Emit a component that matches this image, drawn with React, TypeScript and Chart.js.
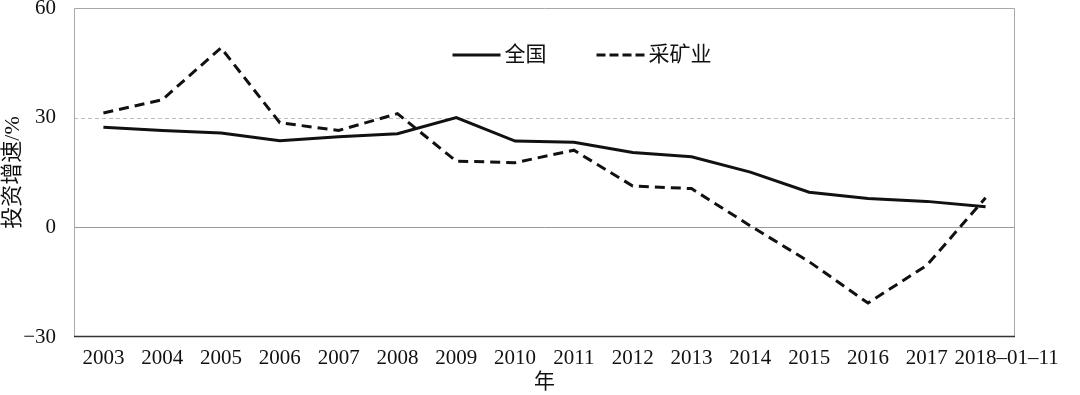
import React, { useEffect, useRef } from "react";
import { Chart, registerables } from "chart.js";

Chart.register(...registerables);

const categories = ["2003", "2004", "2005", "2006", "2007", "2008", "2009", "2010", "2011", "2012", "2013", "2014", "2015", "2016", "2017", "2018–01–11"];
const nationalValues = [27.4, 26.5, 25.8, 23.7, 24.8, 25.6, 30.0, 23.6, 23.3, 20.5, 19.3, 15.1, 9.6, 7.9, 7.1, 5.6];
const miningValues = [31.3, 34.9, 49.1, 28.6, 26.5, 31.1, 18.1, 17.7, 21.1, 11.3, 10.6, 0.4, -9.4, -20.7, -10.4, 8.1];
const seriesNames = ["全国", "采矿业"];
const yTicks = [-30, 0, 30, 60];
const yTitle = "投资增速/%";
const xTitle = "年";

const FONT = "'Liberation Serif', 'Times New Roman', 'Noto Sans CJK SC', serif";

const customDraw = {
  id: "customDraw",
  beforeDatasetsDraw(chart: any) {
    const { ctx, chartArea } = chart;
    const y = chart.scales.y;
    const { left, right, top, bottom } = chartArea;
    ctx.save();
    ctx.strokeStyle = "#bdbdbd";
    ctx.lineWidth = 1;
    ctx.setLineDash([4, 3]);
    const y30 = Math.round(y.getPixelForValue(30)) + 0.5;
    ctx.beginPath();
    ctx.moveTo(left, y30);
    ctx.lineTo(right, y30);
    ctx.stroke();
    ctx.setLineDash([]);
    ctx.strokeStyle = "#9a9a9a";
    const y0 = Math.round(y.getPixelForValue(0)) + 0.5;
    ctx.beginPath();
    ctx.moveTo(left, y0);
    ctx.lineTo(right, y0);
    ctx.stroke();
    ctx.strokeStyle = "#a8a8a8";
    ctx.beginPath();
    ctx.moveTo(left + 0.5, bottom);
    ctx.lineTo(left + 0.5, top + 0.5);
    ctx.lineTo(right - 0.5, top + 0.5);
    ctx.lineTo(right - 0.5, bottom);
    ctx.stroke();
    ctx.strokeStyle = "#333";
    ctx.lineWidth = 1.5;
    ctx.beginPath();
    ctx.moveTo(left, bottom - 0.5);
    ctx.lineTo(right, bottom - 0.5);
    ctx.stroke();
    ctx.restore();
  },
  afterDraw(chart: any) {
    const { ctx, chartArea } = chart;
    const x = chart.scales.x;
    ctx.save();
    ctx.fillStyle = "#111";
    ctx.font = `21px ${FONT}`;
    ctx.textBaseline = "middle";
    ctx.textAlign = "center";
    const n = categories.length;
    categories.forEach((label, i) => {
      let px = x.getPixelForTick(i);
      if (i === n - 1) px += 21;
      ctx.fillText(label, px, chartArea.bottom + 21);
    });
    const cx = (chartArea.left + chartArea.right) / 2;
    const ly = chartArea.top + 47;
    ctx.font = `21px ${FONT}`;
    ctx.textAlign = "left";
    ctx.strokeStyle = "#111";
    ctx.lineWidth = 3;
    ctx.beginPath();
    ctx.moveTo(cx - 92, ly);
    ctx.lineTo(cx - 44, ly);
    ctx.stroke();
    ctx.fillText(seriesNames[0], cx - 40, ly);
    ctx.setLineDash([9, 4]);
    ctx.beginPath();
    ctx.moveTo(cx + 52, ly);
    ctx.lineTo(cx + 103, ly);
    ctx.stroke();
    ctx.setLineDash([]);
    ctx.fillText(seriesNames[1], cx + 104, ly);
    ctx.restore();
  },
};

export default function App() {
  const ref = useRef<HTMLCanvasElement | null>(null);
  useEffect(() => {
    if (!ref.current) return;
    const chart = new Chart(ref.current, {
      type: "line",
      data: {
        labels: categories,
        datasets: [
          {
            label: seriesNames[0],
            data: nationalValues,
            borderColor: "#111",
            borderWidth: 3,
            pointRadius: 0,
            tension: 0,
            fill: false,
          },
          {
            label: seriesNames[1],
            data: miningValues,
            borderColor: "#111",
            borderWidth: 3,
            borderDash: [10, 6],
            pointRadius: 0,
            tension: 0,
            fill: false,
          },
        ],
      },
      options: {
        animation: false,
        responsive: true,
        maintainAspectRatio: false,
        layout: { padding: { left: 0, top: 8, right: 65, bottom: 0 } },
        plugins: { legend: { display: false }, tooltip: { enabled: false } },
        scales: {
          x: {
            offset: true,
            grid: { display: false },
            border: { display: false },
            ticks: { display: false },
            title: {
              display: true,
              text: xTitle,
              color: "#111",
              font: { family: FONT, size: 21 },
              padding: { top: 0, bottom: 0 },
            },
            afterFit: (s: any) => {
              s.height = 58;
              s.paddingLeft = 0;
              s.paddingRight = 0;
            },
          },
          y: {
            min: yTicks[0],
            max: yTicks[yTicks.length - 1],
            afterBuildTicks: (s: any) => {
              s.ticks = yTicks.map((v) => ({ value: v }));
            },
            grid: { display: false },
            border: { display: false },
            ticks: {
              color: "#111",
              padding: 10,
              font: { family: FONT, size: 21 },
              callback: (v: any) => (Number(v) < 0 ? "−" + Math.abs(Number(v)) : String(v)),
            },
            title: {
              display: true,
              text: yTitle,
              color: "#111",
              font: { family: FONT, size: 22 },
              padding: { top: 0, bottom: 0 },
            },
            afterFit: (s: any) => {
              s.width = 74;
              s.paddingTop = 0;
              s.paddingBottom = 0;
            },
          },
        },
      },
      plugins: [customDraw],
    });
    return () => chart.destroy();
  }, []);
  return (
    <div style={{ position: "fixed", left: 0, top: 0, width: 1080, height: 395, background: "#fff" }}>
      <canvas ref={ref} />
    </div>
  );
}
